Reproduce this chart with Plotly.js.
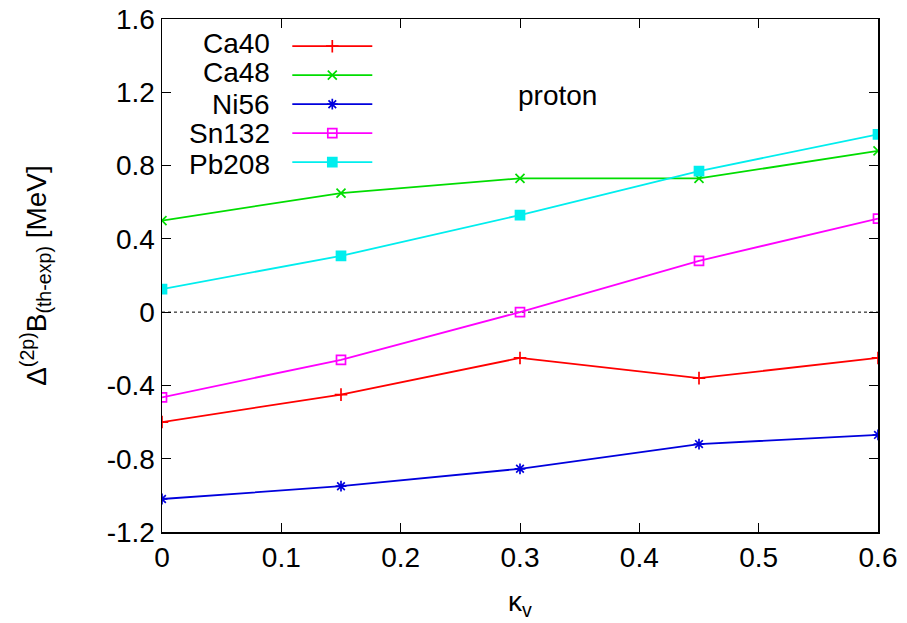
<!DOCTYPE html>
<html>
<head>
<meta charset="utf-8">
<script src="https://cdn.plot.ly/plotly-3.0.1.min.js"></script>
<style>html,body{margin:0;padding:0;background:#fff;}#chart{width:907px;height:623px;}</style>
</head>
<body>
<div id="chart"></div>
<script>
const kappa = [0, 0.15, 0.3, 0.45, 0.6];
const ca40 = [-0.60, -0.45, -0.25, -0.36, -0.25];
const ca48 = [0.50, 0.65, 0.73, 0.73, 0.88];
const ni56 = [-1.02, -0.95, -0.855, -0.72, -0.67];
const sn132 = [-0.465, -0.26, 0.0, 0.28, 0.51];
const pb208 = [0.126, 0.307, 0.53, 0.77, 0.97];
const names = ["Ca40", "Ca48", "Ni56", "Sn132", "Pb208"];
const colors = ["#ff0000", "#00dd00", "#0000dd", "#ff00ff", "#00eeee"];
const symbols = ["cross-thin-open", "x-thin-open", "asterisk-open", "square-open", "square"];
const series = [ca40, ca48, ni56, sn132, pb208];
const xTicks = [0, 0.1, 0.2, 0.3, 0.4, 0.5, 0.6];
const yTicks = [-1.2, -0.8, -0.4, 0, 0.4, 0.8, 1.2, 1.6];

const traces = series.map((ys, i) => ({
  x: kappa, y: ys, type: 'scatter', mode: 'lines+markers', name: ' ',
  line: {color: colors[i], width: 1.8},
  marker: {symbol: symbols[i], size: 9, color: colors[i], line: {color: colors[i], width: 1.7}}
}));
traces.unshift({
  x: [0, 0.6], y: [0, 0], type: 'scatter', mode: 'lines', showlegend: false, hoverinfo: 'skip',
  line: {color: '#000', width: 1, dash: 'dot'}
});

const font = {family: 'Liberation Sans, Arial, sans-serif', size: 28, color: '#000'};
const rowY = [0.953, 0.895, 0.834, 0.776, 0.717];
const annotations = names.map((n, i) => ({
  text: n, xref: 'paper', yref: 'paper', x: 0.153, y: rowY[i], xanchor: 'right', yanchor: 'middle',
  showarrow: false, font: font
}));
annotations.push({text: 'proton', xref: 'paper', yref: 'paper', x: 0.553, y: 0.85,
  xanchor: 'center', yanchor: 'middle', showarrow: false, font: font});

const layout = {
  width: 907, height: 623,
  margin: {l: 162, r: 29, t: 19, b: 91},
  paper_bgcolor: '#fff', plot_bgcolor: '#fff',
  font: font,
  showlegend: true,
  legend: {x: 0.175, y: 0.985, xanchor: 'left', yanchor: 'top', bgcolor: 'rgba(0,0,0,0)',
    itemwidth: 80, tracegroupgap: 0, font: {family: font.family, size: 20}},
  xaxis: {range: [0, 0.6], tickvals: xTicks, ticktext: xTicks.map(v => v === 0 ? '0' : v.toFixed(1)),
    ticks: 'inside', ticklen: 9, tickwidth: 1, tickcolor: '#000', mirror: 'ticks', showline: true,
    linecolor: '#000', linewidth: 1.5, showgrid: false, zeroline: false, tickfont: font,
    title: {text: 'κ<sub>v</sub>', font: font, standoff: 19}},
  yaxis: {range: [-1.2, 1.6], tickvals: yTicks, ticktext: yTicks.map(v => v === 0 ? '0' : v.toFixed(1)),
    ticks: 'inside', ticklen: 9, tickwidth: 1, tickcolor: '#000', mirror: 'ticks', showline: true,
    linecolor: '#000', linewidth: 1.5, showgrid: false, zeroline: false, tickfont: font,
    title: {text: 'Δ<sup>(2p)</sup>B<sub>(th-exp)</sub> [MeV]', font: font, standoff: 52}},
  annotations: annotations
};
Plotly.newPlot('chart', traces, layout, {displayModeBar: false, staticPlot: true});
</script>
</body>
</html>
